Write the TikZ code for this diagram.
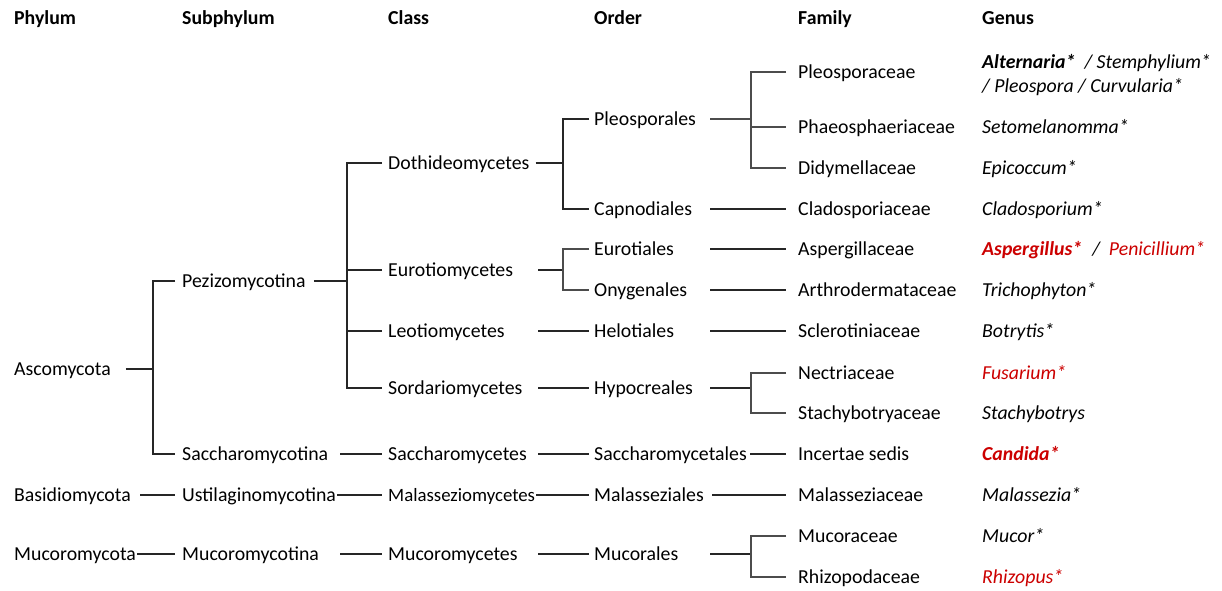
\documentclass[tikz,border=0pt]{standalone}
\usepackage{fontspec}
\setmainfont{Carlito}
\definecolor{gred}{RGB}{204,0,0}
\begin{document}
\begin{tikzpicture}[x=1pt,y=-1pt,
  lbl/.style={anchor=west, inner sep=0pt, text height=14pt, text depth=1.4pt, font=\fontsize{19.8}{23}\selectfont},
  hdr/.style={lbl, font=\fontsize{19.8}{23}\selectfont\bfseries},
  gen/.style={lbl, font=\fontsize{19.8}{23}\selectfont\itshape},
  ln/.style={line width=1.7pt, black!85},
  br/.style={line width=1.4pt, black!70}]
\useasboundingbox (0,0) rectangle (1222,590);
\fill[white] (0,0) rectangle (1222,590);
% headers
\node[hdr] (hP) at (14,18) {Phylum};
\node[hdr] (hS) at (182,18) {Subphylum};
\node[hdr] (hC) at (388,18) {Class};
\node[hdr] (hO) at (594,18) {Order};
\node[hdr] (hF) at (798,18) {Family};
\node[hdr] (hG) at (982,18) {Genus};
% phylum
\node[lbl] (asc) at (14,369) {Ascomycota};
\node[lbl] (bas) at (14,495) {Basidiomycota};
\node[lbl] (muc) at (14,554) {Mucoromycota};
% subphylum
\node[lbl] (pez) at (182,281) {Pezizomycotina};
\node[lbl] (sac) at (182,454) {Saccharomycotina};
\node[lbl] (ust) at (182,495) {Ustilaginomycotina};
\node[lbl] (mcr) at (182,554) {Mucoromycotina};
% class
\node[lbl] (dot) at (388,163) {Dothideomycetes};
\node[lbl] (eur) at (388,270) {Eurotiomycetes};
\node[lbl] (leo) at (388,331) {Leotiomycetes};
\node[lbl] (sor) at (388,388) {Sordariomycetes};
\node[lbl] (sacc) at (388,454) {Saccharomycetes};
\node[lbl, font=\fontsize{18.8}{22}\selectfont] (mal) at (388,495) {Malasseziomycetes};
\node[lbl] (mcy) at (388,554) {Mucoromycetes};
% order
\node[lbl] (ple) at (594,119) {Pleosporales};
\node[lbl] (cap) at (594,209) {Capnodiales};
\node[lbl] (eut) at (594,249) {Eurotiales};
\node[lbl] (ony) at (594,290) {Onygenales};
\node[lbl] (hel) at (594,331) {Helotiales};
\node[lbl] (hyp) at (594,388) {Hypocreales};
\node[lbl] (sct) at (594,454) {Saccharomycetales};
\node[lbl] (mls) at (594,495) {Malasseziales};
\node[lbl] (mco) at (594,554) {Mucorales};
% family
\node[lbl] (f1) at (798,72) {Pleosporaceae};
\node[lbl] (f2) at (798,127) {Phaeosphaeriaceae};
\node[lbl] (f3) at (798,168) {Didymellaceae};
\node[lbl] (f4) at (798,209) {Cladosporiaceae};
\node[lbl] (f5) at (798,249) {Aspergillaceae};
\node[lbl] (f6) at (798,290) {Arthrodermataceae};
\node[lbl] (f7) at (798,331) {Sclerotiniaceae};
\node[lbl] (f8) at (798,373) {Nectriaceae};
\node[lbl] (f9) at (798,413) {Stachybotryaceae};
\node[lbl] (f10) at (798,454) {Incertae sedis};
\node[lbl] (f11) at (798,495) {Malasseziaceae};
\node[lbl] (f12) at (798,536) {Mucoraceae};
\node[lbl] (f13) at (798,577) {Rhizopodaceae};
% genus
\node[gen] (g1a) at (982,62) {\textbf{Alternaria*}\hspace{9pt}/ Stemphylium*};
\node[gen] (g1b) at (982,86) {/ Pleospora / Curvularia*};
\node[gen] (g2) at (982,127) {Setomelanomma*};
\node[gen] (g3) at (982,168) {Epicoccum*};
\node[gen] (g4) at (982,209) {Cladosporium*};
\node[gen] (g5) at (982,249) {\textcolor{gred}{\bfseries Aspergillus*}\hspace{10pt}/\hspace{9pt}\textcolor{gred}{Penicillium*}};
\node[gen] (g6) at (982,290) {Trichophyton*};
\node[gen] (g7) at (982,331) {Botrytis*};
\node[gen, text=gred] (g8) at (982,373) {Fusarium*};
\node[gen] (g9) at (982,413) {Stachybotrys};
\node[gen, text=gred] (g10) at (982,454) {\bfseries Candida*};
\node[gen] (g11) at (982,495) {Malassezia*};
\node[gen] (g12) at (982,536) {Mucor*};
\node[gen, text=gred] (g13) at (982,577) {Rhizopus*};
% helper coordinates
\coordinate (c538) at (538,0);
\coordinate (c710) at (710,0);
\coordinate (c712) at (712,0);
\coordinate (c750) at (750,0);
\coordinate (c340) at (340,0);
% phylum -> subphylum
\coordinate (jA) at (153,369);
\draw[ln] ([xshift=15pt]asc.east) -- (jA);
\draw[ln] ([xshift=-7pt]pez.west) -| (jA) |- ([xshift=-7pt]sac.west);
\draw[ln] ([xshift=9pt]bas.east) -- ([xshift=-7pt]ust.west);
\draw[ln] ([xshift=1pt]muc.east) -- ([xshift=-7pt]mcr.west);
% subphylum -> class
\coordinate (jP) at (347,281);
\draw[ln] ([xshift=8pt]pez.east) -- (jP);
\draw[ln] ([xshift=-6pt]dot.west) -| (jP) |- ([xshift=-6pt]sor.west);
\draw[ln] (eur -| jP) -- ([xshift=-6pt]eur.west);
\draw[ln] (leo -| jP) -- ([xshift=-6pt]leo.west);
\draw[ln] (sac -| c340) -- ([xshift=-6pt]sacc.west);
\draw[ln] ([xshift=1pt]ust.east) -- ([xshift=-6pt]mal.west);
\draw[ln] (mcr -| c340) -- ([xshift=-6pt]mcy.west);
% class -> order
\coordinate (jD) at (563,163);
\draw[ln] ([xshift=6pt]dot.east) -- (jD);
\draw[ln] ([xshift=-5pt]ple.west) -| (jD) |- ([xshift=-5pt]cap.west);
\coordinate (jE) at (563,270);
\draw[ln] (eur -| c538) -- (jE);
\draw[br] ([xshift=-5pt]eut.west) -| (jE) |- ([xshift=-5pt]ony.west);
\draw[ln] (leo -| c538) -- ([xshift=-5pt]hel.west);
\draw[ln] (sor -| c538) -- ([xshift=-5pt]hyp.west);
\draw[ln] (sacc -| c538) -- ([xshift=-5pt]sct.west);
\draw[ln] ([xshift=1pt]mal.east) -- ([xshift=-5pt]mls.west);
\draw[ln] (mcy -| c538) -- ([xshift=-5pt]mco.west);
% order -> family
\coordinate (jL) at (751,119);
\draw[br] (ple -| c710) -- (jL);
\draw[br] ([xshift=-12pt]f1.west) -| (jL) |- ([xshift=-12pt]f3.west);
\draw[br] (f2 -| jL) -- ([xshift=-12pt]f2.west);
\draw[ln] (cap -| c710) -- ([xshift=-12pt]f4.west);
\draw[ln] (eut -| c710) -- ([xshift=-12pt]f5.west);
\draw[ln] (ony -| c710) -- ([xshift=-12pt]f6.west);
\draw[ln] (hel -| c710) -- ([xshift=-12pt]f7.west);
\coordinate (jH) at (751,388);
\draw[ln] (hyp -| c710) -- (jH);
\draw[br] ([xshift=-12pt]f8.west) -| (jH) |- ([xshift=-12pt]f9.west);
\draw[ln] (sct -| c750) -- ([xshift=-12pt]f10.west);
\draw[ln] (mls -| c712) -- ([xshift=-12pt]f11.west);
\coordinate (jM) at (751,554);
\draw[ln] (mco -| c710) -- (jM);
\draw[br] ([xshift=-12pt]f12.west) -| (jM) |- ([xshift=-12pt]f13.west);
\end{tikzpicture}
\end{document}
